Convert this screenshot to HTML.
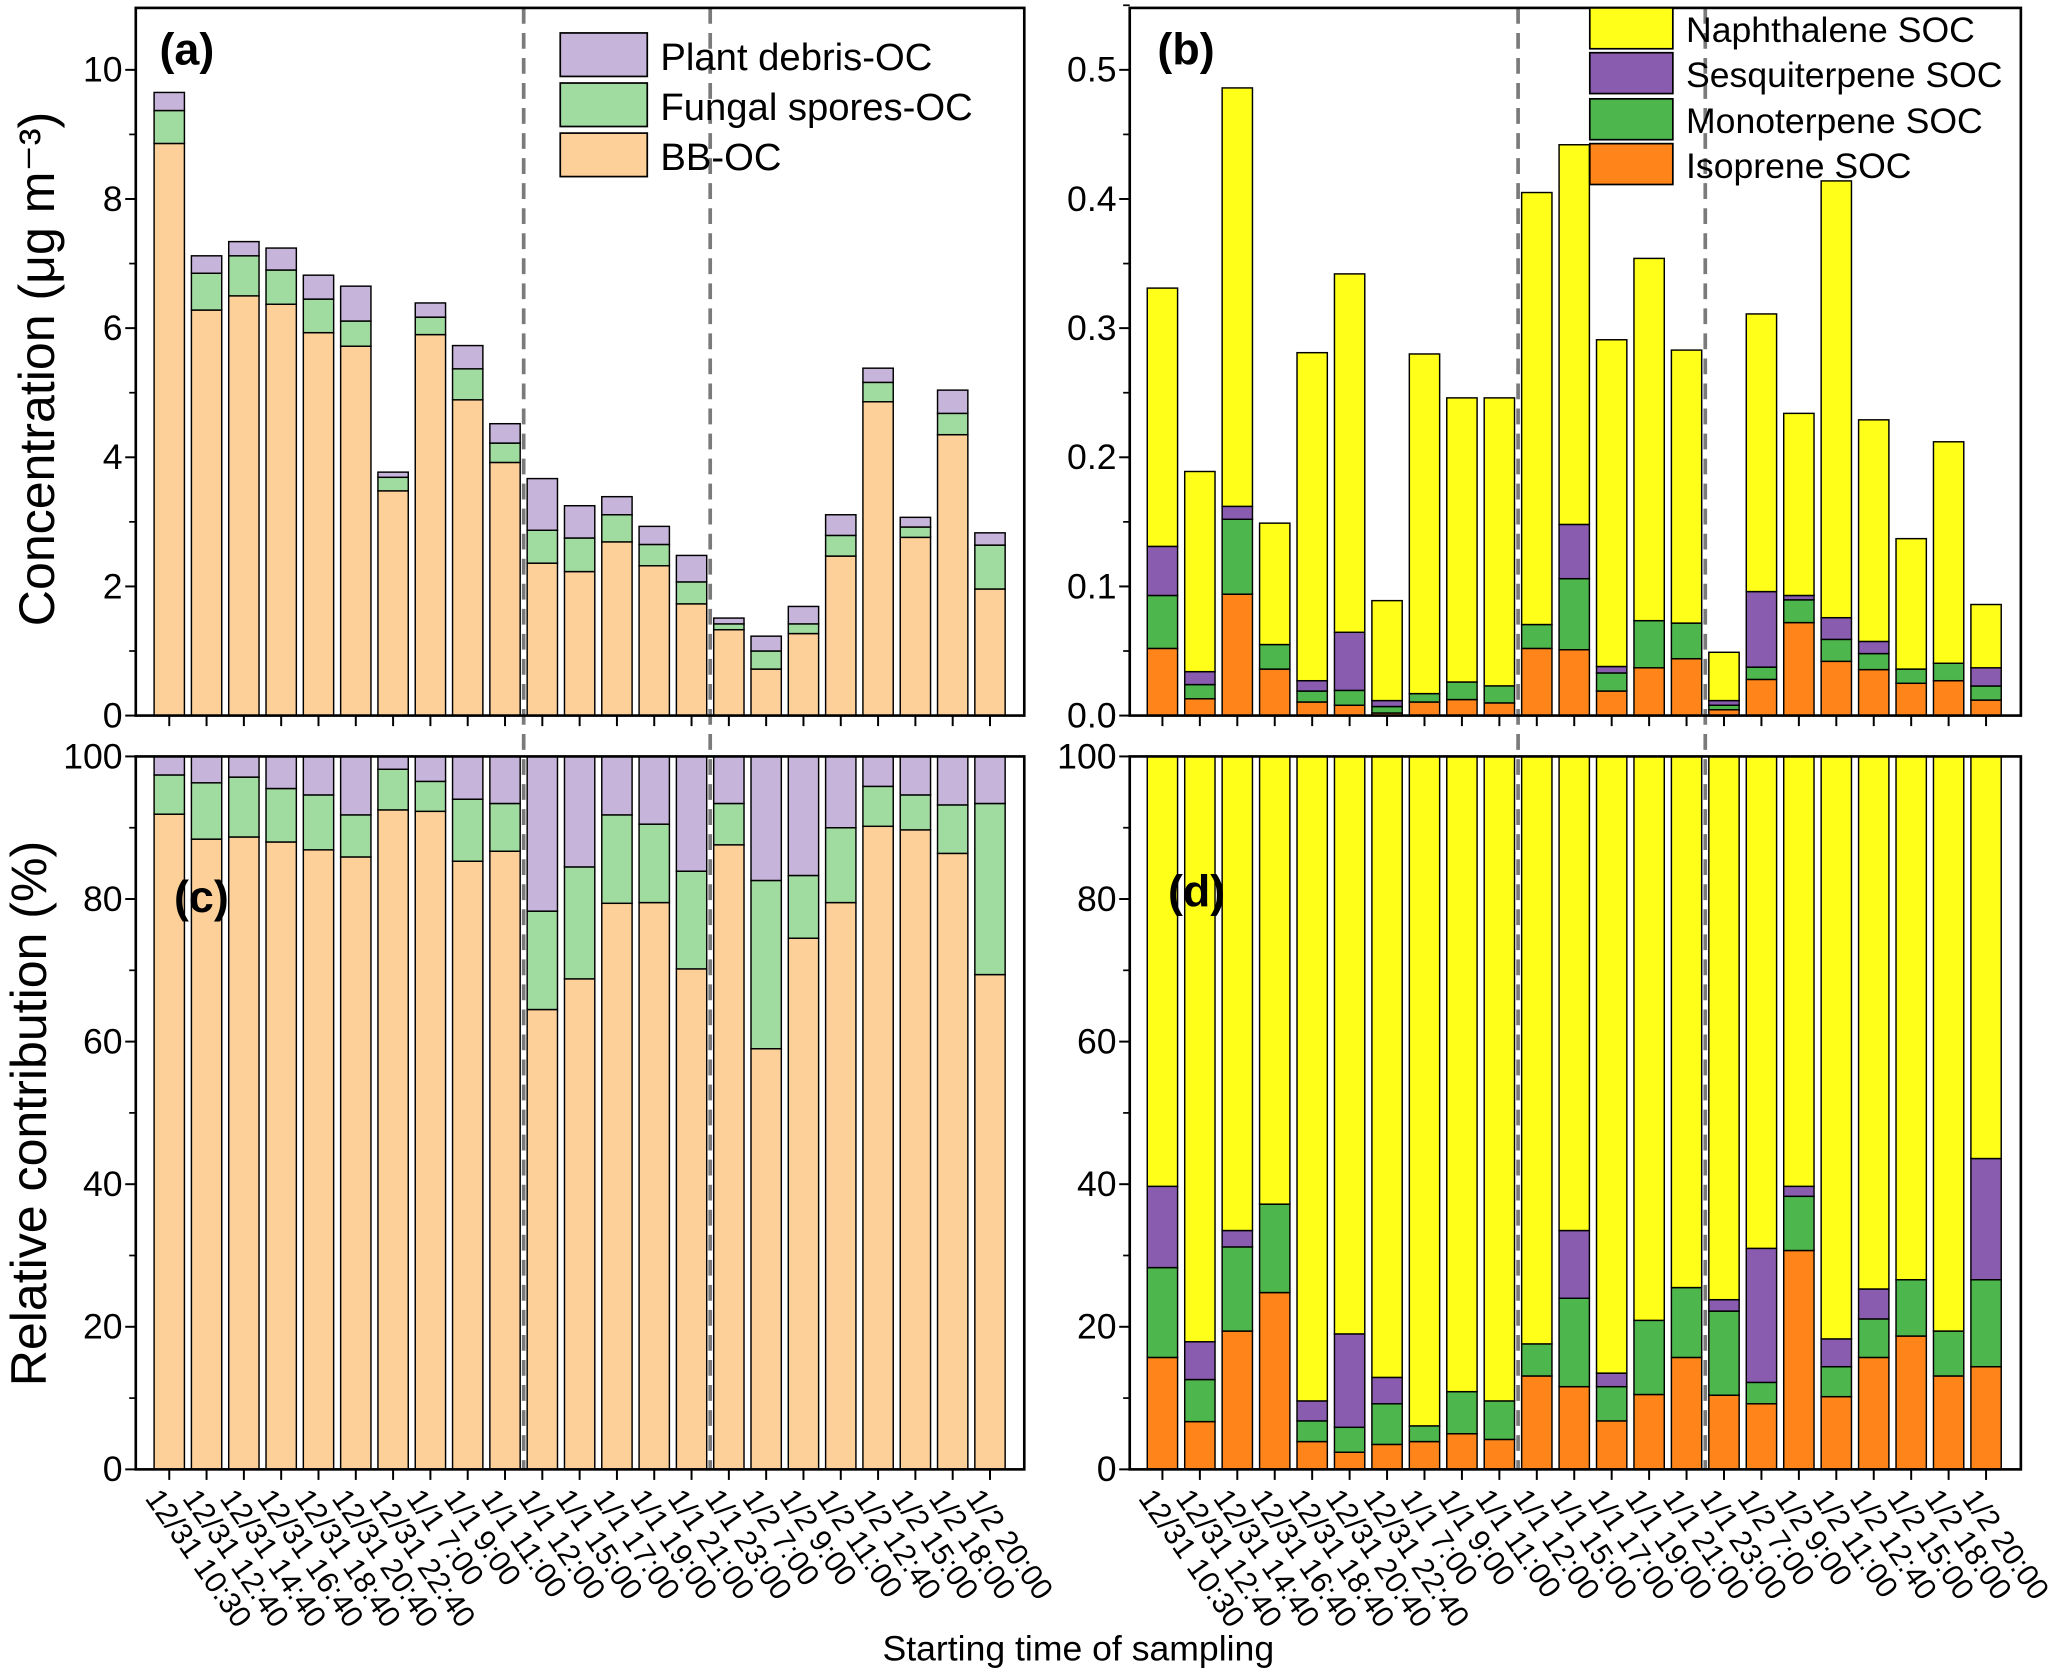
<!DOCTYPE html>
<html><head><meta charset="utf-8"><style>
html,body{margin:0;padding:0;background:#fff}
svg{display:block}
text{font-family:"Liberation Sans",Arial,sans-serif;fill:#000}
</style></head><body>
<svg id="chart" xmlns="http://www.w3.org/2000/svg" width="2067" height="1671" viewBox="0 0 1568 1268" preserveAspectRatio="none">
<g id="g"></g>
</svg>
<script>
const labels=["12/31 10:30","12/31 12:40","12/31 14:40","12/31 16:40","12/31 18:40","12/31 20:40","12/31 22:40","1/1 7:00","1/1 9:00","1/1 11:00","1/1 12:00","1/1 15:00","1/1 17:00","1/1 19:00","1/1 21:00","1/1 23:00","1/2 7:00","1/2 9:00","1/2 11:00","1/2 12:40","1/2 15:00","1/2 18:00","1/2 20:00"];
// panel a (ug m-3), cumulative tops
const bbOC=[8.86,6.28,6.5,6.37,5.93,5.72,3.48,5.9,4.89,3.92,2.36,2.23,2.69,2.32,1.73,1.33,0.72,1.27,2.47,4.86,2.76,4.35,1.96];
const fungTop=[9.37,6.85,7.12,6.9,6.45,6.11,3.69,6.17,5.37,4.22,2.87,2.75,3.11,2.65,2.07,1.42,1.0,1.42,2.79,5.16,2.92,4.68,2.64];
const plantTop=[9.65,7.12,7.34,7.24,6.82,6.65,3.77,6.39,5.73,4.52,3.67,3.25,3.39,2.93,2.48,1.51,1.23,1.69,3.11,5.38,3.07,5.04,2.83];
// panel b (ug m-3), cumulative tops
const isoTop=[0.052,0.013,0.094,0.036,0.0105,0.008,0.002,0.0105,0.0124,0.0098,0.052,0.051,0.019,0.037,0.044,0.0045,0.028,0.072,0.042,0.0356,0.025,0.027,0.012];
const monoTop=[0.093,0.024,0.152,0.055,0.019,0.0195,0.007,0.017,0.026,0.023,0.0705,0.106,0.033,0.0735,0.0716,0.008,0.0375,0.0896,0.059,0.048,0.036,0.0405,0.0229];
const sesqTop=[0.131,0.034,0.162,0.055,0.027,0.0645,0.0116,0.017,0.026,0.023,0.0705,0.148,0.038,0.0735,0.0716,0.0116,0.096,0.093,0.0758,0.0574,0.036,0.0405,0.037];
const totalTop=[0.331,0.189,0.486,0.149,0.281,0.342,0.089,0.28,0.246,0.246,0.405,0.442,0.291,0.354,0.283,0.049,0.311,0.234,0.414,0.229,0.137,0.212,0.086];
// panel c (%) cumulative tops
const bbPct=[91.9,88.4,88.7,88.0,86.9,85.9,92.5,92.3,85.3,86.7,64.5,68.8,79.4,79.5,70.2,87.6,59.0,74.5,79.5,90.2,89.7,86.4,69.4];
const fungPctTop=[97.4,96.3,97.1,95.5,94.6,91.8,98.2,96.5,94.0,93.4,78.3,84.5,91.8,90.5,83.9,93.4,82.6,83.3,90.0,95.8,94.6,93.2,93.4];
// panel d (%) cumulative tops
const isoPct=[15.7,6.7,19.4,24.8,3.9,2.4,3.5,3.9,5.0,4.2,13.1,11.6,6.8,10.5,15.7,10.4,9.2,30.7,10.2,15.7,18.7,13.1,14.4];
const monoPctTop=[28.3,12.6,31.2,37.2,6.8,5.9,9.2,6.1,10.9,9.6,17.6,24.0,11.6,20.9,25.5,22.2,12.2,38.3,14.4,21.1,26.6,19.4,26.6];
const sesqPctTop=[39.7,17.9,33.5,37.2,9.6,19.0,12.9,6.1,10.9,9.6,17.6,33.5,13.5,20.9,25.5,23.8,31.0,39.7,18.3,25.3,26.6,19.4,43.6];
const ticksA=[0,2,4,6,8,10];
const ticksB=["0.0","0.1","0.2","0.3","0.4","0.5"];
const ticksC=[0,20,40,60,80,100];

const NS="http://www.w3.org/2000/svg";
const G=document.getElementById('g');
function mk(tag,attrs,parent){const e=document.createElementNS(NS,tag);for(const k in attrs)e.setAttribute(k,attrs[k]);(parent||G).appendChild(e);return e;}
function txt(s,attrs){const e=mk('text',attrs);e.textContent=s;return e;}

const L={x0:103,x1:777,c0:128.4,dx:28.3};
const R={x0:857,x1:1533,c0:881.8,dx:28.4};
const TOP={y0:6,y1:543}, BOT={y0:574,y1:1115};
const yA=v=>543-v*49, yB=v=>543-v*980, yP=p=>1115-p*5.41;
const xL=i=>L.c0+i*L.dx, xR=i=>R.c0+i*R.dx;
const BW=23;
const C={bb:'#FDD09A',fung:'#A0DCA0',plant:'#C6B4DA',yel:'#FFFF1A',pur:'#8A5CB0',grn:'#4DB74D',org:'#FF8419'};

function seg(x,yTopPx,yBotPx,fill,name){
  if(yBotPx-yTopPx<=0)return;
  const r=mk('rect',{x:x-BW/2,y:yTopPx,width:BW,height:yBotPx-yTopPx,fill:fill,stroke:'#000','stroke-width':1.1});
  
  
}
for(let i=0;i<labels.length;i++){
  seg(xL(i),yA(bbOC[i]),yA(0),C.bb,'bar-bb-oc');
  seg(xL(i),yA(fungTop[i]),yA(bbOC[i]),C.fung,'bar-fungal-oc');
  seg(xL(i),yA(plantTop[i]),yA(fungTop[i]),C.plant,'bar-plant-oc');
  seg(xR(i),yB(isoTop[i]),yB(0),C.org,'bar-isoprene');
  seg(xR(i),yB(monoTop[i]),yB(isoTop[i]),C.grn,'bar-monoterpene');
  seg(xR(i),yB(sesqTop[i]),yB(monoTop[i]),C.pur,'bar-sesquiterpene');
  seg(xR(i),yB(totalTop[i]),yB(sesqTop[i]),C.yel,'bar-naphthalene');
  seg(xL(i),yP(bbPct[i]),yP(0),C.bb,'bar-bb-pct');
  seg(xL(i),yP(fungPctTop[i]),yP(bbPct[i]),C.fung,'bar-fungal-pct');
  seg(xL(i),yP(100),yP(fungPctTop[i]),C.plant,'bar-plant-pct');
  seg(xR(i),yP(isoPct[i]),yP(0),C.org,'bar-isoprene-pct');
  seg(xR(i),yP(monoPctTop[i]),yP(isoPct[i]),C.grn,'bar-monoterpene-pct');
  seg(xR(i),yP(sesqPctTop[i]),yP(monoPctTop[i]),C.pur,'bar-sesquiterpene-pct');
  seg(xR(i),yP(100),yP(sesqPctTop[i]),C.yel,'bar-naphthalene-pct');
}

[[L,9.5],[L,14.5],[R,9.5],[R,14.5]].forEach(([P,k])=>{
  const x=P.c0+k*P.dx;
  const d=mk('line',{x1:x,y1:6,x2:x,y2:1115,stroke:'#7a7a7a','stroke-width':2.8,'stroke-dasharray':'12,7'});
  
  
});

function frame(P,Y,name){
  const r=mk('rect',{x:P.x0,y:Y.y0,width:P.x1-P.x0,height:Y.y1-Y.y0,fill:'none',stroke:'#000','stroke-width':2});
  
  
  for(let i=0;i<labels.length;i++){
    const x=P.c0+i*P.dx;
    const t=mk('line',{x1:x,y1:Y.y1,x2:x,y2:Y.y1+8,stroke:'#000','stroke-width':1.5});
    
    
  }
}
frame(L,TOP,'panel-a-frame');frame(R,TOP,'panel-b-frame');frame(L,BOT,'panel-c-frame');frame(R,BOT,'panel-d-frame');

function yaxis(P,vals,fy,minorStep,maxV,name){
  vals.forEach(v=>{
    const y=fy(parseFloat(v));
    mk('line',{x1:P.x0-8,y1:y,x2:P.x0,y2:y,stroke:'#000','stroke-width':1.5});
    const t=txt(String(v),{x:P.x0-10,y:y+9,'font-size':27,'text-anchor':'end'});
    
    
  });
  for(let v=minorStep;v<maxV;v+=minorStep*2){
    const y=fy(v);
    mk('line',{x1:P.x0-5,y1:y,x2:P.x0,y2:y,stroke:'#000','stroke-width':1.3});
  }
}
yaxis(L,ticksA,yA,1,11,'y-tick-label-a');
yaxis(R,ticksB,yB,0.05,0.55,'y-tick-label-b');
yaxis(L,ticksC,yP,10,100,'y-tick-label-c');
yaxis(R,ticksC,yP,10,100,'y-tick-label-d');

[L,R].forEach(P=>{
  labels.forEach((s,i)=>{
    const x=P.c0+i*P.dx-6, y=1128;
    const t=txt(s,{x:x,y:y,'font-size':23,transform:`rotate(55 ${x} ${y})`,'dominant-baseline':'hanging'});
    
    
  });
});

let t;
t=txt('Concentration (μg m⁻³)',{x:41,y:280,'font-size':38,'text-anchor':'middle',transform:'rotate(-90 41 280)'});

t=txt('Relative contribution (%)',{x:35,y:845,'font-size':38,'text-anchor':'middle',transform:'rotate(-90 35 845)'});

t=txt('Starting time of sampling',{x:818,y:1260,'font-size':27,'text-anchor':'middle'});

[['(a)',121,49],['(b)',878,49],['(c)',132,692],['(d)',886,688]].forEach(([s,x,y])=>{
  const e=txt(s,{x:x,y:y,'font-size':34,'font-weight':'bold'});
  
  
});

const legA=[['Plant debris-OC',C.plant,25],['Fungal spores-OC',C.fung,63],['BB-OC',C.bb,101]];
legA.forEach(([s,c,y])=>{
  const r=mk('rect',{x:425,y:y,width:66,height:33,fill:c,stroke:'#000','stroke-width':1.3});
  
  const e=txt(s,{x:501,y:y+28,'font-size':29});
  
});
const legB=[['Naphthalene SOC',C.yel,6],['Sesquiterpene SOC',C.pur,40],['Monoterpene SOC',C.grn,75],['Isoprene SOC',C.org,109]];
legB.forEach(([s,c,y])=>{
  const r=mk('rect',{x:1206,y:y,width:63,height:31,fill:c,stroke:'#000','stroke-width':1.3});
  
  const e=txt(s,{x:1279,y:y+26,'font-size':27});
  
});
</script>
</body></html>
